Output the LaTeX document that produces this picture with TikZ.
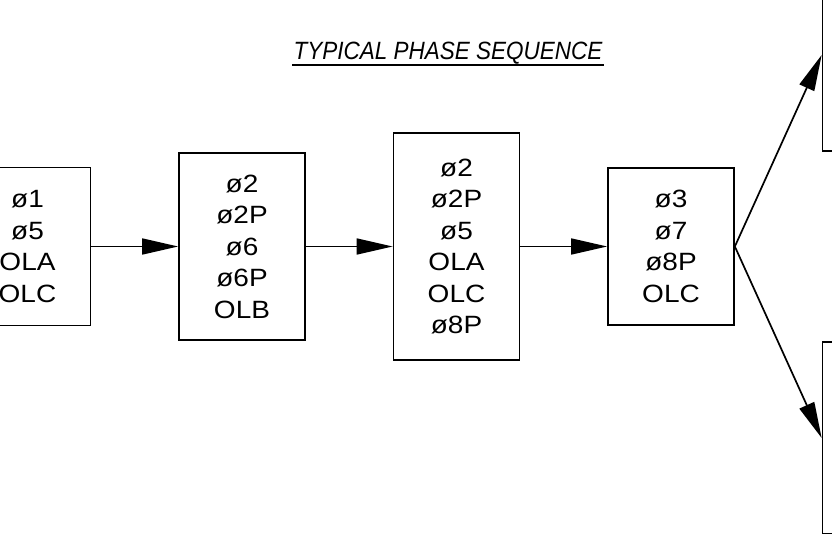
\documentclass[tikz,border=0pt]{standalone}
\usepackage{fontspec}
\setmainfont{Liberation Sans}
\newfontfamily\titlefont[FakeStretch=0.9]{Liberation Sans}
\newfontfamily\boxfont[FakeStretch=1.12]{Liberation Sans}
\usetikzlibrary{arrows.meta,positioning}

\begin{document}
\begin{tikzpicture}[x=1pt, y=1pt, node distance=214.5pt,
  phasebox/.style={draw, rectangle, line width=1.7pt, minimum width=126pt, align=center, inner sep=0pt, font=\boxfont\fontsize{25}{31.5}\selectfont},
  flow/.style={line width=1.7pt, -{Triangle[length=36pt, width=16pt]}}]
\useasboundingbox (0,0) rectangle (832,533);
\clip (0,0) rectangle (832,533);

\node (title) [font=\titlefont\itshape\fontsize{25}{30}\selectfont, inner sep=0pt, anchor=base] at (448,473) {TYPICAL PHASE SEQUENCE};
\draw[line width=1.4pt] ([xshift=-1pt, yshift=-5pt]title.base west) -- ([xshift=1pt, yshift=-5pt]title.base east);

\node (p1) [phasebox, minimum height=158pt] at (27.5,286.5) {ø1\\ø5\\OLA\\OLC};
\node (p2) [phasebox, minimum height=187pt, right of=p1] {ø2\\ø2P\\ø6\\ø6P\\OLB};
\node (p3) [phasebox, minimum height=227pt, right of=p2] {ø2\\ø2P\\ø5\\OLA\\OLC\\ø8P};
\node (p4) [phasebox, minimum height=157pt, right of=p3] {ø3\\ø7\\ø8P\\OLC};
\node (nextup) [phasebox, minimum height=192pt, right of=p4, yshift=191.5pt] {};
\node (nextdown) [phasebox, minimum height=192pt, right of=p4, yshift=-191.5pt] {};

\draw[flow] (p1) -- (p2);
\draw[flow] (p2) -- (p3);
\draw[flow] (p3) -- (p4);
\draw[flow] (p4.east) -- (nextup.west);
\draw[flow] (p4.east) -- (nextdown.west);
\end{tikzpicture}
\end{document}
